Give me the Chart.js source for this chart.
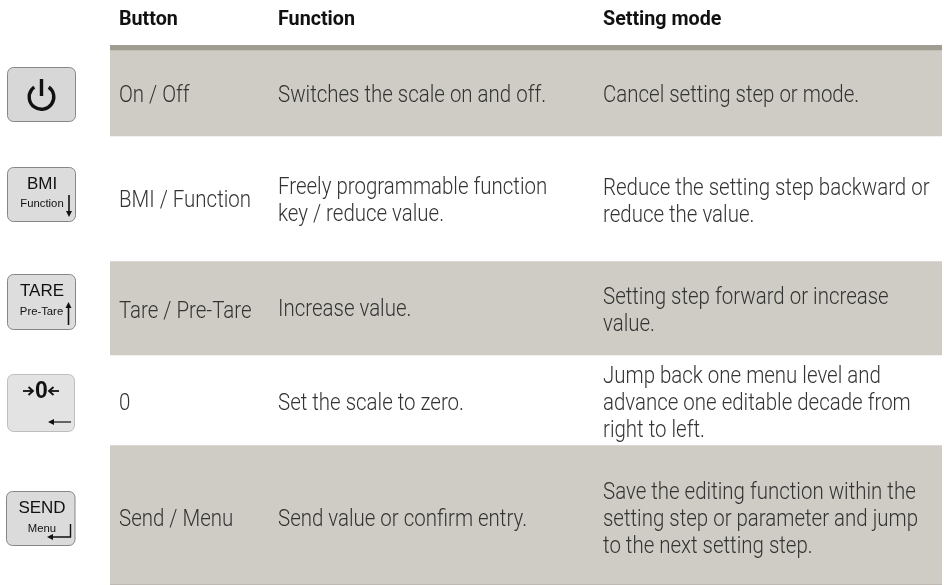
<!DOCTYPE html>
<html>
<head>
<meta charset="utf-8">
<style>
  html, body { margin: 0; padding: 0; background: #fff; }
  canvas { display: block; }
</style>
<script src="https://cdn.jsdelivr.net/npm/chart.js@4"></script>
</head>
<body>
<canvas id="buttonTable" width="944" height="585"></canvas>
<script>
// Table content
const headers = ['Button', 'Function', 'Setting mode'];
const buttonNames = ['On / Off', 'BMI / Function', 'Tare / Pre-Tare', '0', 'Send / Menu'];
const functionTexts = [
    ['Switches the scale on and off.'],
    ['Freely programmable function', 'key / reduce value.'],
    ['Increase value.'],
    ['Set the scale to zero.'],
    ['Send value or confirm entry.']
];
const settingTexts = [
    ['Cancel setting step or mode.'],
    ['Reduce the setting step backward or', 'reduce the value.'],
    ['Setting step forward or increase', 'value.'],
    ['Jump back one menu level and', 'advance one editable decade from', 'right to left.'],
    ['Save the editing function within the', 'setting step or parameter and jump', 'to the next setting step.']
];
// Row heights of the table bands, header rule and closing line
const ruleHeight = [5];
const rowHeights = [86, 125, 94, 90, 139];
const closeHeight = [1];

// Text layout: column x and the baseline of each text line
const columnX = [119, 278, 603];
const headerY = 25;
const buttonY = [102, 207, 318, 410, 526];
const functionY = [[102], [194, 221], [316], [410], [526]];
const settingY = [[102], [195, 222], [304, 331], [383, 410, 437], [499, 526, 553]];

// Stacked bar: every row is one segment, odd rows are left white
const datasets = [{ data: ruleHeight, backgroundColor: '#a09c92' }];
rowHeights.forEach((h, i) => {
    datasets.push({ data: [h], backgroundColor: i % 2 === 0 ? '#cfccc5' : '#ffffff' });
});
datasets.push({ data: closeHeight, backgroundColor: '#b8b5ad' });

// Roboto Condensed is not installed, so squeeze Roboto
function narrowText(ctx, text, x, y, squeeze) {
    ctx.save();
    ctx.translate(x, y);
    ctx.scale(squeeze, 1);
    ctx.fillText(text, 0, 0);
    ctx.restore();
}

function roundedKey(ctx, x, y, w, h, fill, stroke) {
    ctx.beginPath();
    ctx.roundRect(x, y, w, h, 6);
    ctx.fillStyle = fill;
    ctx.fill();
    ctx.lineWidth = 1;
    ctx.strokeStyle = stroke;
    ctx.stroke();
}

function label(ctx, text, x, y, size, weight) {
    ctx.font = (weight || 400) + ' ' + size + 'px "Liberation Sans"';
    ctx.fillStyle = '#111';
    ctx.textAlign = 'center';
    ctx.textBaseline = 'middle';
    ctx.fillText(text, x, y);
}

function line(ctx, pts, width) {
    ctx.beginPath();
    pts.forEach((p, i) => i ? ctx.lineTo(p[0], p[1]) : ctx.moveTo(p[0], p[1]));
    ctx.lineWidth = width;
    ctx.strokeStyle = '#111';
    ctx.stroke();
}

function arrowHead(ctx, x, y, dx, dy) {
    ctx.beginPath();
    ctx.moveTo(x, y);
    ctx.lineTo(x - dx * 6 + dy * 3, y - dy * 6 + dx * 3);
    ctx.lineTo(x - dx * 6 - dy * 3, y - dy * 6 - dx * 3);
    ctx.closePath();
    ctx.fillStyle = '#111';
    ctx.fill();
}

function drawKeys(ctx) {
    // power key
    roundedKey(ctx, 7.5, 67.5, 68, 54, '#d8d7d7', '#85858a');
    ctx.beginPath();
    ctx.arc(41.5, 97, 12.3, -Math.PI * 0.3, Math.PI * 1.3);
    ctx.lineWidth = 3.4;
    ctx.strokeStyle = '#111';
    ctx.stroke();
    line(ctx, [[41.5, 79], [41.5, 96]], 3.4);

    // BMI / Function
    roundedKey(ctx, 7.5, 167.5, 68, 54, '#dcdcdc', '#85858a');
    label(ctx, 'BMI', 42, 184, 17);
    label(ctx, 'Function', 42, 204, 11.3);
    line(ctx, [[69, 195], [69, 211]], 1.6);
    arrowHead(ctx, 69, 217, 0, 1);

    // Tare / Pre-Tare
    roundedKey(ctx, 7.5, 274.5, 68, 55, '#dddddd', '#85858a');
    label(ctx, 'TARE', 42, 291, 17);
    label(ctx, 'Pre-Tare', 41.5, 312, 11.3);
    line(ctx, [[68.5, 325], [68.5, 308]], 1.6);
    arrowHead(ctx, 68.5, 302, 0, -1);

    // zero key
    roundedKey(ctx, 7.5, 374.5, 67, 57, '#e3e3e3', '#bdbdbd');
    label(ctx, '0', 41.5, 392, 23, 700);
    line(ctx, [[23, 391], [33, 391]], 1.8);
    line(ctx, [[28.5, 387], [33, 391], [28.5, 395]], 1.8);
    line(ctx, [[49, 391], [59, 391]], 1.8);
    line(ctx, [[53.5, 387], [49, 391], [53.5, 395]], 1.8);
    line(ctx, [[54, 422], [71, 422]], 1.2);
    arrowHead(ctx, 48, 422, -1, 0);

    // Send / Menu
    roundedKey(ctx, 6.5, 491.5, 68.5, 54, '#dbdbdb', '#85858a');
    label(ctx, 'SEND', 42, 508, 17);
    label(ctx, 'Menu', 42, 529, 11.3);
    line(ctx, [[70.5, 524], [70.5, 537], [53, 537]], 1.4);
    arrowHead(ctx, 47, 537, -1, 0);
}

const tablePlugin = {
    id: 'tableText',
    afterDraw(chart) {
        const ctx = chart.ctx;
        ctx.save();
        ctx.textAlign = 'left';
        ctx.textBaseline = 'alphabetic';

        ctx.font = '700 21px Roboto';
        ctx.fillStyle = '#111111';
        headers.forEach((h, i) => narrowText(ctx, h, columnX[i], headerY, 0.938));

        ctx.font = '300 24px Roboto';
        ctx.fillStyle = '#333333';
        buttonNames.forEach((name, row) => {
            narrowText(ctx, name, columnX[0], buttonY[row], 0.8525);
            functionTexts[row].forEach((t, k) => narrowText(ctx, t, columnX[1], functionY[row][k], 0.8525));
            settingTexts[row].forEach((t, k) => narrowText(ctx, t, columnX[2], settingY[row][k], 0.8525));
        });
        ctx.restore();

        ctx.save();
        drawKeys(ctx);
        ctx.restore();
    }
};

new Chart(document.getElementById('buttonTable'), {
    type: 'bar',
    data: { labels: ['rows'], datasets: datasets },
    options: {
        responsive: false,
        animation: false,
        layout: { padding: { left: 110, right: 2, top: 45, bottom: 0 } },
        datasets: { bar: { barPercentage: 1, categoryPercentage: 1, borderWidth: 0 } },
        plugins: { legend: { display: false }, tooltip: { enabled: false } },
        scales: {
            x: { display: false, stacked: true },
            y: { display: false, stacked: true, reverse: true, min: 0, max: 540 }
        }
    },
    plugins: [tablePlugin]
});
</script>
</body>
</html>
